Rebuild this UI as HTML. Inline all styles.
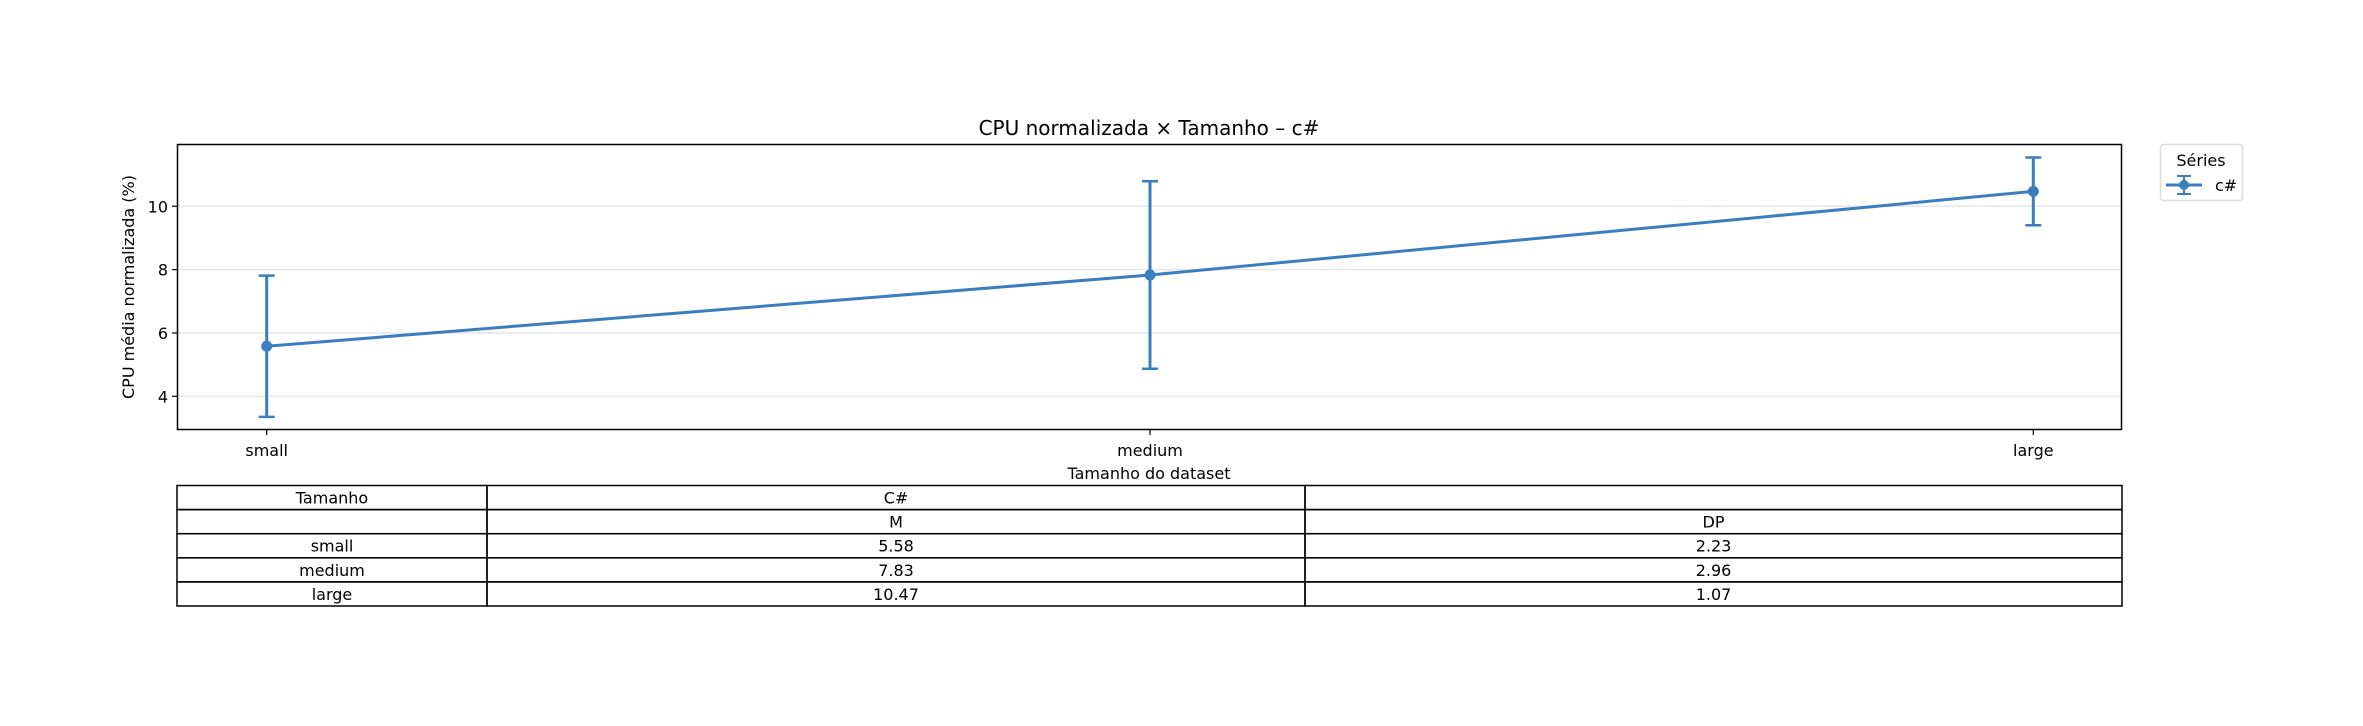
<!DOCTYPE html>
<html><head><meta charset="utf-8"><style>
html,body{margin:0;padding:0;background:#fff;}
svg{display:block;font-family:"DejaVu Sans","Liberation Sans",sans-serif;}
</style></head><body>
<svg id="chart" width="2363" height="726" viewBox="0 0 2363 726">
<rect width="2363" height="726" fill="#fff"/>
<g id="grid"></g>
<g id="marks"></g>
<rect x="177.5" y="144.5" width="1944" height="285" fill="none" stroke="#000" stroke-width="1.5"/>
<g id="axes"></g>
<text x="1149" y="135" font-size="20" text-anchor="middle">CPU normalizada × Tamanho – c#</text>
<text x="1149" y="479" font-size="16" text-anchor="middle">Tamanho do dataset</text>
<text transform="translate(134,287) rotate(-90)" font-size="16" text-anchor="middle">CPU média normalizada (%)</text>
<g>
<rect x="2160.5" y="144.5" width="82" height="56" rx="3" fill="#fff" stroke="#ddd" stroke-width="1.5"/>
<text x="2201" y="166" font-size="16" text-anchor="middle">Séries</text>
<g>
<line x1="2166" y1="185" x2="2202" y2="185" stroke="#3a7ebf" stroke-width="3"/>
<line x1="2184" y1="176" x2="2184" y2="194" stroke="#3a7ebf" stroke-width="2"/>
<line x1="2177" y1="176" x2="2191" y2="176" stroke="#3a7ebf" stroke-width="2"/>
<line x1="2177" y1="194" x2="2191" y2="194" stroke="#3a7ebf" stroke-width="2"/>
<circle cx="2184" cy="185" r="5" fill="#3a7ebf"/>
<text x="2215" y="191" font-size="16">c#</text>
</g>
</g>
<g id="table"></g>
</svg>
<script>
const categories = ["small","medium","large"];
const means = [5.58, 7.83, 10.47];
const stds = [2.23, 2.96, 1.07];
const yTicks = [4, 6, 8, 10];
const tableHeader1 = ["Tamanho","C#",""];
const tableHeader2 = ["","M","DP"];

const NS = "http://www.w3.org/2000/svg";
const X0 = 266.7, X1 = 2033.3;
function xs(i){ return X0 + (X1 - X0) * i / (categories.length - 1); }
function ys(v){ return 396.3 - (v - 4) * 31.67; }
function mk(tag, attrs, parent){ const e = document.createElementNS(NS, tag); for (const k in attrs) e.setAttribute(k, attrs[k]); parent.appendChild(e); return e; }
const grid = document.getElementById('grid'), axes = document.getElementById('axes'), marks = document.getElementById('marks'), table = document.getElementById('table');
const blue = "#3a7ebf";

yTicks.forEach(t => {
  const y = ys(t);
  const g = mk('line', {x1:178, x2:2121, y1:y, y2:y, stroke:'#e6e6e6', 'stroke-width':1.5}, grid);
  
  
  const tk = mk('line', {x1:172, x2:177, y1:y, y2:y, stroke:'#000', 'stroke-width':1.2}, axes);
  
  
  const tx = mk('text', {x:168, y:y + 6, 'font-size':16, 'text-anchor':'end'}, axes);
  
  
  tx.textContent = t;
});
categories.forEach((c, i) => {
  const x = xs(i);
  const tk = mk('line', {x1:x, x2:x, y1:430, y2:435, stroke:'#000', 'stroke-width':1.2}, axes);
  
  
  const tx = mk('text', {x:x, y:456, 'font-size':16, 'text-anchor':'middle'}, axes);
  
  
  tx.textContent = c;
});
const line = mk('polyline', {points: means.map((m, i) => xs(i) + ',' + ys(m)).join(' '), fill:'none', stroke:blue, 'stroke-width':3}, marks);


means.forEach((m, i) => {
  const x = xs(i), yt = ys(m + stds[i]), yb = ys(m - stds[i]);
  const g = mk('g', {}, marks);
  
  
  mk('line', {x1:x, x2:x, y1:yt, y2:yb, stroke:blue, 'stroke-width':3}, g);
  mk('line', {x1:x - 8, x2:x + 8, y1:yt, y2:yt, stroke:blue, 'stroke-width':2.5}, g);
  mk('line', {x1:x - 8, x2:x + 8, y1:yb, y2:yb, stroke:blue, 'stroke-width':2.5}, g);
  const p = mk('circle', {cx:x, cy:ys(m), r:5.5, fill:blue}, marks);
  
  
});

const TL = 177, TR = 2122, C1 = 487, C2 = 1305, TT = 485.5, RH = 24.1;
const rows = [tableHeader1, tableHeader2].concat(categories.map((c, i) => [c, means[i].toFixed(2), stds[i].toFixed(2)]));
const cols = [TL, C1, C2, TR];
rows.forEach((r, ri) => {
  r.forEach((v, ci) => {
    const rect = mk('rect', {x:cols[ci], y:TT + ri * RH, width:cols[ci + 1] - cols[ci], height:RH, fill:'none', stroke:'#000', 'stroke-width':1.5}, table);
    
    
    if (v !== "") {
      const t = mk('text', {x:(cols[ci] + cols[ci + 1]) / 2, y:TT + ri * RH + 18, 'font-size':16, 'text-anchor':'middle'}, table);
      
      
      t.textContent = v;
    }
  });
});
</script>
</body></html>
